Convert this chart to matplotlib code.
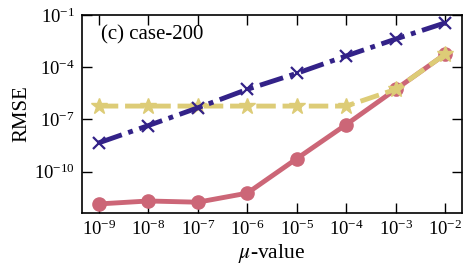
import matplotlib
matplotlib.use("Agg")
import matplotlib.pyplot as plt
import numpy as np

mu = [1e-9, 1e-8, 1e-7, 1e-6, 1e-5, 1e-4, 1e-3, 1e-2]
red_log = [-11.85, -11.68, -11.75, -11.23, -9.25, -7.29, -5.27, -3.25]
yellow_log = [-6.23, -6.23, -6.23, -6.23, -6.23, -6.23, -5.27, -3.25]
blue_log = [-8.34, -7.35, -6.33, -5.27, -4.35, -3.35, -2.38, -1.45]

red = [10**v for v in red_log]
yellow = [10**v for v in yellow_log]
blue = [10**v for v in blue_log]

plt.rcParams['font.family'] = ['Liberation Serif', 'DejaVu Serif']
plt.rcParams['mathtext.fontset'] = 'stix'

fig = plt.figure(figsize=(4.71, 2.69), dpi=100)
ax = fig.add_axes([82/471, 1-213/269, 380/471, 198/269])

ax.plot(mu, red, color='#CC6677', lw=3.5, marker='o', ms=9.5, ls='-', zorder=2)
ax.plot(mu, yellow, color='#DDCC77', lw=3.5, marker='*', ms=12, ls=(0, (4, 1.4)), zorder=3)
ax.plot(mu, blue, color='#332288', lw=3.5, marker='x', ms=9, mew=1.6, ls=(0, (5, 1.4, 1, 1.4)), zorder=4)

ax.set_xscale('log')
ax.set_yscale('log')
ax.set_xlim(10**-9.34, 10**-1.66)
ax.set_ylim(10**-12.37, 1e-1)
ax.set_xticks(mu)
ax.set_yticks([1e-10, 1e-7, 1e-4, 1e-1])
ax.minorticks_off()
ax.tick_params(direction='in', top=True, right=True, length=7, width=1, labelsize=13.5, pad=5)
for s in ax.spines.values():
    s.set_linewidth(1.2)
ax.set_xlabel(r'$\mu$-value', fontsize=15.5, labelpad=2)
ax.set_ylabel('RMSE', fontsize=15, labelpad=2)
ax.text(0.05, 0.9, '(c) case-200', transform=ax.transAxes, fontsize=15, va='center', ha='left')

fig.savefig('out.png', dpi=100)
